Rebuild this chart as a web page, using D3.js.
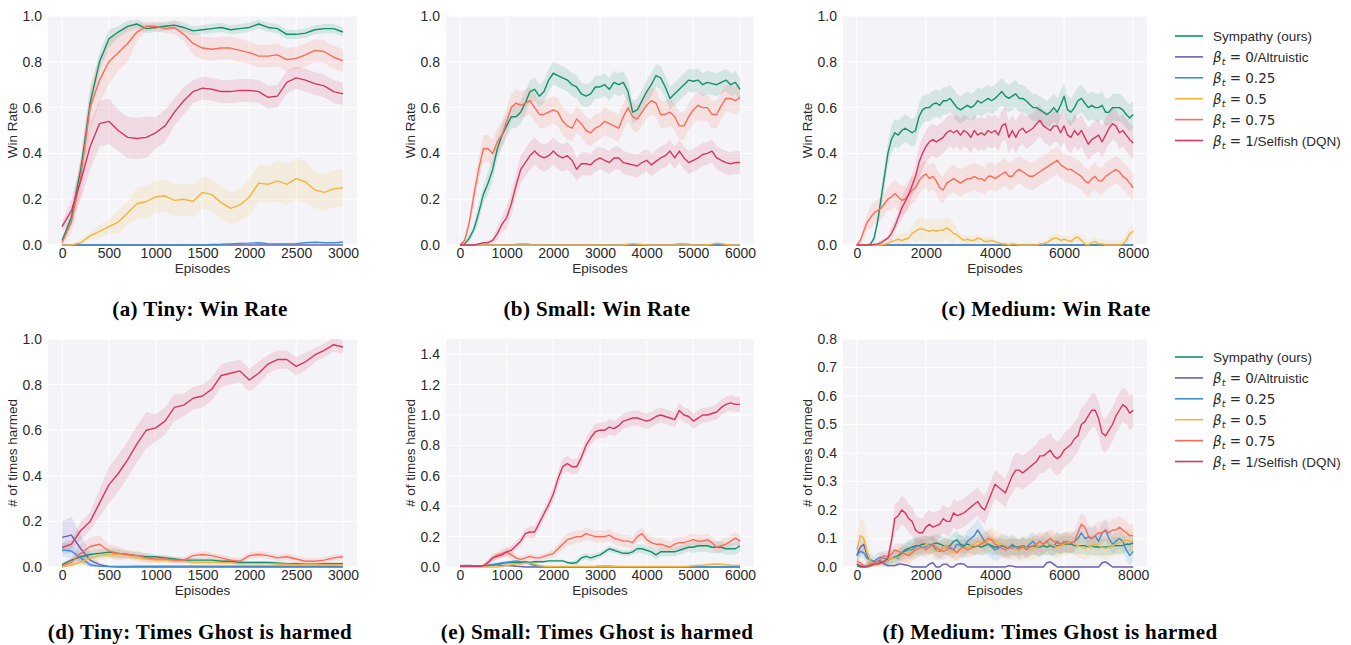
<!DOCTYPE html>
<html>
<head>
<meta charset="utf-8">
<script src="https://cdn.jsdelivr.net/npm/d3@7"></script>
<style>
  body { margin: 0; background: #fff; }
  svg { display: block; }
</style>
</head>
<body>
<script>
var seriesNames = ['Sympathy (ours)', 'β_t = 0/Altruistic', 'β_t = 0.25',
                   'β_t = 0.5', 'β_t = 0.75', 'β_t = 1/Selfish (DQN)'];

var tinyEpisodes   = d3.range(0, 3001, 100);
var smallEpisodes  = d3.range(0, 6001, 100);
var mediumEpisodes = d3.range(0, 8001, 100);

var tinyTicks   = [0, 500, 1000, 1500, 2000, 2500, 3000];
var smallTicks  = [0, 1000, 2000, 3000, 4000, 5000, 6000];
var mediumTicks = [0, 2000, 4000, 6000, 8000];
var winTicks        = [0, 0.2, 0.4, 0.6, 0.8, 1.0];
var smallHarmTicks  = [0, 0.2, 0.4, 0.6, 0.8, 1.0, 1.2, 1.4];
var mediumHarmTicks = [0, 0.1, 0.2, 0.3, 0.4, 0.5, 0.6, 0.7, 0.8];

// (a) Tiny: win rate
var tinyWinSympathy  = [0.02,0.12,0.33,0.62,0.80,0.90,0.93,0.955,0.965,0.945,0.95,0.955,0.96,0.95,0.935,0.94,0.945,0.95,0.94,0.945,0.95,0.965,0.95,0.945,0.92,0.92,0.925,0.94,0.945,0.945,0.93];
var tinyWinAltruistic = [0,0,0,0,0,0,0,0,0,0,0,0,0,0,0,0,0,0,0,0,0,0,0,0,0,0,0,0,0,0,0];
var tinyWinB025      = [0,0,0,0,0,0,0,0,0,0,0,0,0,0,0,0,0.002,0.003,0.005,0.007,0.008,0.01,0.006,0.005,0.005,0.006,0.01,0.012,0.01,0.01,0.012];
var tinyWinB05       = [0,0,0.01,0.04,0.06,0.08,0.10,0.14,0.18,0.19,0.21,0.215,0.195,0.20,0.19,0.23,0.22,0.185,0.16,0.175,0.21,0.27,0.265,0.28,0.265,0.29,0.275,0.24,0.23,0.245,0.25];
var tinyWinB075      = [0.01,0.10,0.30,0.60,0.72,0.80,0.84,0.88,0.93,0.955,0.955,0.945,0.95,0.92,0.88,0.86,0.855,0.86,0.86,0.85,0.84,0.825,0.825,0.83,0.81,0.815,0.83,0.85,0.845,0.82,0.805];
var tinyWinSelfish   = [0.08,0.15,0.28,0.43,0.53,0.54,0.50,0.47,0.465,0.47,0.49,0.52,0.58,0.63,0.67,0.685,0.68,0.67,0.67,0.675,0.675,0.67,0.645,0.65,0.71,0.73,0.72,0.705,0.695,0.67,0.66];

// (b) Small: win rate
var smallWinSympathy = [0,0.005,0.03,0.07,0.14,0.22,0.27,0.33,0.42,0.48,0.52, 0.56,0.56,0.58,0.62,0.67,0.68,0.65,0.67,0.72,0.75, 0.74,0.73,0.72,0.70,0.69,0.66,0.65,0.66,0.69,0.69, 0.70,0.68,0.71,0.70,0.71,0.67,0.58,0.59,0.63,0.67, 0.70,0.74,0.73,0.69,0.64,0.66,0.68,0.70,0.72,0.715, 0.72,0.70,0.71,0.705,0.70,0.71,0.72,0.70,0.71,0.68];
var smallWinAltruistic = [0,0,0,0,0,0,0,0,0,0,0, 0,0,0,0,0,0,0,0,0,0, 0,0,0,0,0,0,0,0,0,0, 0,0,0,0,0,0,0,0,0,0, 0,0,0,0,0,0,0,0,0,0, 0,0,0,0,0,0,0,0,0,0];
var smallWinB025     = [0,0,0,0,0,0,0,0,0,0,0, 0,0.002,0.003,0.003,0.002,0,0,0,0,0, 0,0,0,0,0,0,0,0,0,0, 0,0,0,0,0,0,0,0,0,0, 0,0,0,0,0,0.002,0.003,0.003,0.002,0, 0,0,0,0,0,0,0,0,0,0];
var smallWinB05      = [0,0,0,0,0,0,0,0,0,0,0, 0,0,0,0,0,0,0,0,0,0, 0,0,0,0,0,0,0,0,0,0, 0,0,0,0,0,0.003,0.006,0.004,0.002,0, 0,0,0,0,0,0,0,0,0,0, 0,0,0,0.004,0.008,0.006,0.002,0,0,0];
var smallWinB075     = [0,0.02,0.10,0.22,0.33,0.42,0.42,0.40,0.45,0.48,0.54, 0.60,0.62,0.61,0.62,0.63,0.60,0.57,0.57,0.58,0.59, 0.58,0.54,0.52,0.51,0.55,0.53,0.50,0.49,0.51,0.52, 0.54,0.53,0.52,0.51,0.56,0.60,0.56,0.55,0.58,0.61, 0.63,0.62,0.57,0.57,0.58,0.56,0.52,0.52,0.56,0.59, 0.61,0.60,0.60,0.57,0.57,0.61,0.64,0.64,0.63,0.645];
var smallWinSelfish  = [0,0,0,0,0.005,0.01,0.01,0.02,0.05,0.09,0.12, 0.18,0.26,0.33,0.36,0.39,0.41,0.39,0.38,0.39,0.41, 0.39,0.38,0.39,0.37,0.33,0.355,0.355,0.35,0.37,0.38, 0.37,0.36,0.38,0.38,0.36,0.355,0.35,0.345,0.36,0.37, 0.35,0.365,0.38,0.39,0.41,0.38,0.41,0.38,0.36,0.37, 0.38,0.395,0.40,0.41,0.38,0.37,0.36,0.355,0.36,0.36];

// (c) Medium: win rate
var mediumWinSympathy = [0,0,0,0,0.005,0.03,0.1,0.2,0.3,0.4, 0.46,0.49,0.48,0.5,0.51,0.5,0.49,0.5,0.56,0.59, 0.6,0.6,0.615,0.62,0.61,0.63,0.63,0.64,0.62,0.6, 0.59,0.6,0.61,0.6,0.61,0.63,0.62,0.63,0.64,0.63, 0.64,0.655,0.67,0.65,0.64,0.65,0.66,0.64,0.64,0.63, 0.615,0.6,0.6,0.59,0.58,0.57,0.58,0.6,0.58,0.61, 0.65,0.59,0.58,0.6,0.63,0.64,0.62,0.6,0.61,0.6, 0.6,0.61,0.58,0.58,0.6,0.6,0.6,0.59,0.57,0.555, 0.57];
var mediumWinAltruistic = [0,0,0,0,0,0,0,0,0,0, 0,0,0,0,0,0,0,0,0,0, 0,0,0,0,0,0,0,0,0,0, 0,0,0,0,0,0,0,0,0,0, 0,0,0,0,0,0,0,0,0,0, 0,0,0,0,0,0,0,0,0,0, 0,0,0,0,0,0,0,0,0,0, 0,0,0,0,0,0,0,0,0,0, 0];
var mediumWinB025 = [0,0,0,0,0,0,0,0,0,0, 0,0,0,0,0,0,0,0,0,0, 0,0,0,0,0,0,0,0,0,0, 0,0,0,0,0,0,0,0,0,0, 0,0,0,0,0,0,0,0,0,0, 0,0,0,0,0,0,0,0,0,0, 0,0,0,0,0,0,0,0,0,0, 0,0,0,0,0,0,0,0,0,0, 0];
var mediumWinB05 = [0,0,0,0,0,0,0,0,0.003,0.008, 0.015,0.02,0.025,0.02,0.025,0.03,0.05,0.06,0.07,0.07, 0.065,0.06,0.065,0.06,0.065,0.065,0.075,0.065,0.05,0.045, 0.03,0.02,0.025,0.02,0.02,0.03,0.025,0.015,0.015,0.02, 0.015,0.01,0.005,0.005,0,0.005,0.003,0,0,0, 0,0,0,0.005,0.005,0.01,0.02,0.03,0.03,0.02, 0.025,0.02,0.015,0.03,0.035,0.02,0.005,0,0.01,0.015, 0.005,0.005,0,0,0,0,0,0.005,0.02,0.05, 0.06];
var mediumWinB075 = [0,0.02,0.06,0.1,0.12,0.14,0.15,0.16,0.18,0.2, 0.21,0.225,0.21,0.195,0.2,0.22,0.24,0.25,0.28,0.3, 0.31,0.29,0.3,0.28,0.25,0.24,0.27,0.28,0.29,0.28, 0.27,0.28,0.29,0.29,0.3,0.29,0.29,0.28,0.3,0.3, 0.29,0.3,0.31,0.32,0.3,0.3,0.32,0.33,0.32,0.31, 0.3,0.3,0.31,0.32,0.33,0.34,0.35,0.36,0.37,0.35, 0.34,0.33,0.33,0.32,0.31,0.3,0.28,0.27,0.29,0.3, 0.28,0.28,0.3,0.31,0.32,0.33,0.32,0.3,0.29,0.27, 0.25];
var mediumWinSelfish = [0,0,0,0,0,0.003,0.005,0.01,0.02,0.03, 0.05,0.08,0.12,0.16,0.19,0.22,0.26,0.3,0.36,0.4, 0.43,0.45,0.46,0.45,0.46,0.47,0.49,0.5,0.49,0.5, 0.48,0.5,0.49,0.47,0.5,0.48,0.49,0.48,0.5,0.49, 0.5,0.48,0.52,0.53,0.47,0.5,0.47,0.5,0.51,0.49, 0.5,0.51,0.53,0.545,0.52,0.51,0.5,0.52,0.52,0.49, 0.52,0.48,0.47,0.5,0.48,0.5,0.47,0.44,0.46,0.47, 0.48,0.45,0.48,0.51,0.53,0.52,0.49,0.5,0.48,0.46, 0.445];

// (d) Tiny: times ghost is harmed
var tinyHarmSympathy  = [0.01,0.03,0.045,0.055,0.06,0.065,0.06,0.055,0.05,0.045,0.045,0.04,0.035,0.03,0.03,0.03,0.03,0.025,0.025,0.02,0.02,0.02,0.02,0.018,0.015,0.015,0.012,0.012,0.015,0.015,0.015];
var tinyHarmAltruistic = [0.13,0.14,0.08,0.03,0.01,0.002,0,0,0,0,0,0,0,0,0,0,0,0,0,0,0,0,0,0,0,0,0,0,0,0,0];
var tinyHarmB025      = [0.075,0.07,0.04,0.01,0.003,0.002,0.002,0.002,0.003,0.003,0.003,0.003,0.004,0.004,0.004,0.004,0.004,0.004,0.004,0.004,0.004,0.004,0.004,0.004,0.004,0.004,0.004,0.004,0.004,0.004,0.004];
var tinyHarmB05       = [0,0.01,0.02,0.04,0.05,0.055,0.055,0.05,0.04,0.035,0.03,0.03,0.025,0.025,0.02,0.02,0.02,0.02,0.018,0.015,0.015,0.015,0.015,0.012,0.012,0.01,0.01,0.01,0.01,0.01,0.01];
var tinyHarmB075      = [0.005,0.02,0.06,0.09,0.10,0.07,0.06,0.055,0.05,0.04,0.035,0.035,0.03,0.03,0.05,0.055,0.05,0.04,0.03,0.025,0.05,0.055,0.05,0.04,0.045,0.035,0.025,0.025,0.03,0.04,0.045];
var tinyHarmSelfish   = [0.085,0.10,0.16,0.20,0.28,0.36,0.41,0.47,0.54,0.60,0.61,0.64,0.70,0.71,0.74,0.75,0.78,0.84,0.85,0.86,0.82,0.85,0.89,0.91,0.91,0.88,0.90,0.93,0.95,0.975,0.965];

// (e) Small: times ghost is harmed
var smallHarmSympathy = [0.005,0.005,0.005,0.005,0.005,0.005,0.01,0.015,0.02,0.025,0.03, 0.03,0.03,0.03,0.035,0.03,0.035,0.035,0.035,0.04,0.04, 0.04,0.04,0.03,0.025,0.03,0.06,0.07,0.06,0.07,0.08, 0.10,0.12,0.11,0.10,0.09,0.09,0.10,0.12,0.12,0.11, 0.10,0.08,0.10,0.10,0.10,0.10,0.11,0.12,0.13,0.13, 0.14,0.14,0.14,0.13,0.13,0.13,0.12,0.12,0.12,0.14];
var smallHarmAltruistic = [0.008,0.01,0.01,0.008,0.005,0.005,0.01,0.015,0.015,0.01,0.01, 0.008,0.005,0.003,0,0,0,0,0,0,0, 0,0,0,0,0,0,0,0,0,0, 0,0,0,0,0,0,0,0,0,0, 0,0,0,0,0,0,0,0,0,0, 0,0,0,0,0,0,0,0,0,0];
var smallHarmB025 = [0.005,0.005,0.005,0.005,0.005,0.005,0.01,0.015,0.02,0.025,0.03, 0.035,0.04,0.035,0.03,0.02,0.01,0.005,0.003,0.002,0.002, 0.002,0.002,0.002,0.002,0.002,0.002,0.002,0.002,0.003,0.005, 0.005,0.006,0.004,0.002,0.002,0.002,0.002,0.002,0.002,0.002, 0.002,0.002,0.002,0.002,0.002,0.002,0.002,0.002,0.002,0.002, 0.002,0.002,0.002,0.002,0.002,0.002,0.002,0.002,0.002,0.002];
var smallHarmB05 = [0,0,0,0,0,0,0,0,0,0.005,0.01, 0.015,0.02,0.02,0.025,0.025,0.02,0.01,0.005,0.003,0.003, 0.003,0.003,0.003,0.003,0.003,0.003,0.003,0.003,0.003,0.003, 0.003,0.003,0.003,0.003,0.003,0.003,0.003,0.003,0.003,0.003, 0.003,0.003,0.003,0.003,0.003,0.003,0.003,0.003,0.005,0.008, 0.01,0.012,0.015,0.018,0.02,0.018,0.015,0.012,0.01,0.012];
var smallHarmB075 = [0.005,0.005,0.005,0.005,0.005,0.005,0.03,0.06,0.08,0.09,0.10, 0.08,0.06,0.05,0.06,0.07,0.06,0.06,0.07,0.08,0.09, 0.12,0.15,0.18,0.19,0.20,0.20,0.22,0.21,0.20,0.20, 0.20,0.21,0.19,0.18,0.17,0.17,0.16,0.20,0.22,0.18, 0.16,0.15,0.15,0.14,0.13,0.15,0.16,0.16,0.17,0.18, 0.17,0.17,0.18,0.16,0.13,0.14,0.15,0.17,0.19,0.17];
var smallHarmSelfish = [0.005,0.005,0.005,0.005,0.005,0.01,0.03,0.06,0.07,0.08,0.10, 0.11,0.14,0.17,0.22,0.23,0.23,0.29,0.35,0.41,0.48, 0.58,0.66,0.68,0.66,0.66,0.72,0.80,0.85,0.89,0.90, 0.90,0.92,0.91,0.93,0.96,0.97,0.98,0.98,0.97,0.96, 0.97,0.99,1.00,0.99,0.98,0.97,1.03,1.00,0.99,0.96, 0.98,1.00,1.00,1.01,1.02,1.05,1.07,1.08,1.07,1.07];

// (f) Medium: times ghost is harmed
var mediumHarmSympathy = [0.005,0,0,0.005,0.01,0.01,0.01,0.015,0.02,0.025, 0.03,0.035,0.04,0.05,0.06,0.065,0.07,0.075,0.075,0.08, 0.08,0.075,0.08,0.085,0.08,0.075,0.07,0.075,0.09,0.095, 0.08,0.075,0.08,0.075,0.07,0.075,0.07,0.075,0.08,0.075, 0.07,0.07,0.075,0.07,0.07,0.075,0.07,0.07,0.075,0.07, 0.07,0.075,0.07,0.07,0.075,0.07,0.075,0.07,0.075,0.075, 0.08,0.08,0.08,0.075,0.075,0.075,0.075,0.07,0.075,0.07, 0.07,0.07,0.07,0.07,0.075,0.075,0.075,0.075,0.08,0.08, 0.085];
var mediumHarmAltruistic = [0.04,0.07,0.08,0.04,0.02,0.015,0.02,0.02,0.01,0.005, 0.005,0.005,0.01,0.01,0.008,0.005,0,0,0,0, 0,0.01,0.015,0,0,0.01,0.01,0,0,0.01, 0.012,0.01,0,0,0,0,0,0,0,0, 0,0,0,0,0.005,0.003,0,0,0,0, 0,0,0,0,0,0.015,0.018,0.01,0,0, 0,0,0,0,0,0,0,0,0,0, 0,0.015,0.018,0.01,0,0,0,0,0,0, 0];
var mediumHarmB025 = [0.04,0.055,0.05,0.03,0.025,0.02,0.03,0.035,0.03,0.025, 0.03,0.035,0.03,0.05,0.055,0.06,0.06,0.07,0.075,0.07, 0.07,0.08,0.075,0.06,0.055,0.07,0.075,0.065,0.06,0.08, 0.075,0.07,0.09,0.1,0.11,0.13,0.11,0.09,0.08,0.07, 0.06,0.065,0.075,0.07,0.065,0.08,0.07,0.06,0.07,0.065, 0.08,0.09,0.075,0.07,0.08,0.09,0.075,0.07,0.09,0.08, 0.085,0.09,0.08,0.09,0.1,0.12,0.1,0.105,0.1,0.11, 0.09,0.12,0.13,0.1,0.08,0.09,0.1,0.09,0.06,0.04, 0.055];
var mediumHarmB05 = [0.06,0.11,0.1,0.05,0.02,0.01,0.01,0.015,0.02,0.025, 0.03,0.03,0.035,0.04,0.045,0.05,0.055,0.06,0.065,0.07, 0.08,0.075,0.06,0.055,0.06,0.07,0.075,0.055,0.05,0.055, 0.06,0.065,0.07,0.075,0.08,0.09,0.085,0.08,0.09,0.1, 0.09,0.085,0.08,0.075,0.07,0.065,0.06,0.06,0.065,0.07, 0.06,0.065,0.07,0.075,0.08,0.085,0.08,0.075,0.07,0.075, 0.08,0.085,0.09,0.08,0.075,0.07,0.065,0.07,0.075,0.08, 0.075,0.07,0.065,0.07,0.075,0.08,0.085,0.09,0.095,0.09, 0.09];
var mediumHarmB075 = [0.02,0.015,0.005,0.005,0.01,0.015,0.02,0.03,0.04,0.035, 0.045,0.06,0.055,0.05,0.045,0.04,0.05,0.06,0.065,0.07, 0.06,0.07,0.08,0.07,0.06,0.055,0.06,0.07,0.06,0.05, 0.065,0.07,0.06,0.065,0.07,0.075,0.08,0.09,0.1,0.095, 0.08,0.075,0.065,0.06,0.07,0.065,0.07,0.065,0.075,0.06, 0.07,0.075,0.08,0.09,0.08,0.09,0.1,0.09,0.085,0.08, 0.09,0.08,0.085,0.09,0.12,0.15,0.14,0.11,0.1,0.11, 0.12,0.12,0.13,0.12,0.13,0.13,0.14,0.13,0.12,0.11, 0.11];
var mediumHarmSelfish = [0.01,0.005,0,0,0.005,0.01,0.01,0.015,0.02,0.03, 0.09,0.17,0.18,0.2,0.19,0.17,0.16,0.13,0.12,0.12, 0.14,0.15,0.14,0.145,0.15,0.17,0.16,0.16,0.19,0.18, 0.185,0.19,0.2,0.21,0.22,0.23,0.21,0.2,0.23,0.26, 0.29,0.28,0.27,0.26,0.29,0.32,0.34,0.34,0.33,0.34, 0.35,0.36,0.37,0.39,0.39,0.4,0.41,0.39,0.38,0.39, 0.41,0.42,0.43,0.45,0.46,0.5,0.51,0.53,0.55,0.55, 0.52,0.47,0.46,0.48,0.5,0.53,0.55,0.57,0.56,0.54, 0.55];

// shaded-band half widths: [from episode, half width] steps, null = no band
var tinyWinBands = [
  [[0,0.01],[100,0.03],[200,0.05],[400,0.04],[600,0.025],[800,0.02]],
  null,
  [[0,0.003]],
  [[0,0],[200,0.015],[400,0.03],[600,0.05],[800,0.07],[2000,0.08],[2300,0.09],[2700,0.08]],
  [[0,0.01],[100,0.05],[200,0.08],[300,0.1],[600,0.08],[800,0.04],[900,0.02],[1200,0.03],[1400,0.05]],
  [[0,0.02],[100,0.05],[200,0.08],[300,0.1],[600,0.09],[1000,0.07],[1200,0.06],[1400,0.05]]
];
var smallWinBands = [
  [[0,0],[200,0.02],[400,0.04],[600,0.05]],
  null,
  [[0,0.002]],
  [[0,0.003]],
  [[0,0],[100,0.02],[300,0.05],[500,0.06]],
  [[0,0],[600,0.01],[800,0.03],[1000,0.05],[1300,0.06],[2500,0.05]]
];
var mediumWinBands = [
  [[0,0],[500,0.02],[700,0.05],[1000,0.06]],
  null,
  [[0,0.002]],
  [[0,0],[800,0.01],[1200,0.03],[1700,0.05],[2900,0.02],[4000,0.01],[5500,0.02],[7800,0.03]],
  [[0,0.01],[200,0.03],[400,0.05],[1000,0.06]],
  [[0,0],[700,0.01],[1000,0.03],[1300,0.05],[1800,0.07]]
];
var tinyHarmBands = [
  [[0,0.01],[200,0.02],[700,0.015],[1000,0.01],[2000,0.006]],
  [[0,0.07],[100,0.08],[200,0.06],[300,0.03],[400,0.01],[500,0.002]],
  [[0,0.03],[200,0.02],[300,0.01],[400,0.003]],
  [[0,0.005],[200,0.015],[300,0.02],[700,0.015],[1000,0.01],[2000,0.006]],
  [[0,0.01],[100,0.02],[200,0.04],[500,0.03],[700,0.02],[1000,0.015]],
  [[0,0.02],[200,0.04],[400,0.06],[500,0.08],[1000,0.06],[1300,0.05],[2200,0.04],[2700,0.03]]
];
var smallHarmBands = [
  [[0,0.003],[600,0.01],[2500,0.02],[3800,0.03],[5000,0.04]],
  [[0,0.005]],
  [[0,0.003],[700,0.01],[1500,0.003]],
  [[0,0.003],[1000,0.008],[1800,0.003],[5000,0.006]],
  [[0,0.003],[600,0.02],[900,0.03],[1200,0.02],[2000,0.03],[2200,0.04]],
  [[0,0.003],[600,0.02],[1000,0.03],[1500,0.04],[2000,0.05]]
];
var mediumHarmBands = [
  [[0,0.01],[1000,0.02],[1500,0.03]],
  [[0,0.03],[400,0.01],[1000,0.003]],
  [[0,0.02],[1000,0.03],[3000,0.04],[4500,0.035]],
  [[0,0.06],[400,0.02],[1000,0.03],[3500,0.04]],
  [[0,0.01],[700,0.02],[1200,0.03],[5000,0.035],[6400,0.04]],
  [[0,0.005],[900,0.03],[1100,0.05],[4500,0.06]]
];

// ---- style ----
var WIDTH = 1351, HEIGHT = 645;
var colors = ['#12906d', '#6b5fb2', '#3d8fd2', '#f2b53c', '#ff6a57', '#d5385f'];
var BG = '#f4f4f8';
var SANS = '"Liberation Sans", Arial, sans-serif';
var SERIF = '"Liberation Serif", "Times New Roman", serif';
var TEXT = '#2b2b2b';

var panels = [
  { ep: tinyEpisodes, xMax: 3000, xTicks: tinyTicks, yMax: 1.0, yTicks: winTicks, yLabel: 'Win Rate',
    series: [tinyWinSympathy, tinyWinAltruistic, tinyWinB025, tinyWinB05, tinyWinB075, tinyWinSelfish],
    bands: tinyWinBands, box: [48, 16, 357, 245], caption: '(a) Tiny: Win Rate', capX: 200, capY: 316 },
  { ep: smallEpisodes, xMax: 6000, xTicks: smallTicks, yMax: 1.0, yTicks: winTicks, yLabel: 'Win Rate',
    series: [smallWinSympathy, smallWinAltruistic, smallWinB025, smallWinB05, smallWinB075, smallWinSelfish],
    bands: smallWinBands, box: [446, 16, 754, 245], caption: '(b) Small: Win Rate', capX: 597, capY: 316 },
  { ep: mediumEpisodes, xMax: 8000, xTicks: mediumTicks, yMax: 1.0, yTicks: winTicks, yLabel: 'Win Rate',
    series: [mediumWinSympathy, mediumWinAltruistic, mediumWinB025, mediumWinB05, mediumWinB075, mediumWinSelfish],
    bands: mediumWinBands, box: [843, 16, 1147, 245], caption: '(c) Medium: Win Rate', capX: 1046, capY: 316 },
  { ep: tinyEpisodes, xMax: 3000, xTicks: tinyTicks, yMax: 1.0, yTicks: winTicks, yLabel: '# of times harmed',
    series: [tinyHarmSympathy, tinyHarmAltruistic, tinyHarmB025, tinyHarmB05, tinyHarmB075, tinyHarmSelfish],
    bands: tinyHarmBands, box: [48, 339, 357, 567], caption: '(d) Tiny: Times Ghost is harmed', capX: 200, capY: 639 },
  { ep: smallEpisodes, xMax: 6000, xTicks: smallTicks, yMax: 1.5, yTicks: smallHarmTicks, yLabel: '# of times harmed',
    series: [smallHarmSympathy, smallHarmAltruistic, smallHarmB025, smallHarmB05, smallHarmB075, smallHarmSelfish],
    bands: smallHarmBands, box: [446, 339, 754, 567], caption: '(e) Small: Times Ghost is harmed', capX: 597, capY: 639 },
  { ep: mediumEpisodes, xMax: 8000, xTicks: mediumTicks, yMax: 0.8, yTicks: mediumHarmTicks, yLabel: '# of times harmed',
    series: [mediumHarmSympathy, mediumHarmAltruistic, mediumHarmB025, mediumHarmB05, mediumHarmB075, mediumHarmSelfish],
    bands: mediumHarmBands, box: [843, 339, 1147, 567], caption: '(f) Medium: Times Ghost is harmed', capX: 1050, capY: 639 }
];

var svg = d3.select('body').append('svg')
            .attr('width', WIDTH)
            .attr('height', HEIGHT)
            .style('background', '#fff');

function bandAt(steps, e) {
  var w = 0;
  steps.forEach(function(s) { if (s[0] <= e) w = s[1]; });
  return w;
}

function drawPanel(p, idx) {
  var left = p.box[0], top = p.box[1], right = p.box[2], bottom = p.box[3];
  var x = d3.scaleLinear().domain([-p.xMax * 0.05, p.xMax * 1.05]).range([left, right]);
  var y = d3.scaleLinear().domain([0, p.yMax]).range([bottom, top]);
  var g = svg.append('g');

  g.append('rect')
    .attr('x', left).attr('y', top)
    .attr('width', right - left).attr('height', bottom - top)
    .attr('fill', BG);

  g.selectAll('line.gx').data(p.xTicks).enter().append('line')
    .attr('x1', function(d) { return x(d); }).attr('x2', function(d) { return x(d); })
    .attr('y1', top).attr('y2', bottom)
    .attr('stroke', '#fff').attr('stroke-width', 1);
  g.selectAll('line.gy').data(p.yTicks).enter().append('line')
    .attr('x1', left).attr('x2', right)
    .attr('y1', function(d) { return y(d); }).attr('y2', function(d) { return y(d); })
    .attr('stroke', '#fff').attr('stroke-width', 1);

  var clipId = 'clip' + idx;
  svg.append('clipPath').attr('id', clipId).append('rect')
    .attr('x', left).attr('y', top).attr('width', right - left).attr('height', bottom - top);
  var bandLayer = g.append('g').attr('clip-path', 'url(#' + clipId + ')');
  var lineLayer = g.append('g');

  var area = d3.area()
    .x(function(d) { return x(d.e); })
    .y0(function(d) { return y(Math.max(0, d.v - d.w)); })
    .y1(function(d) { return y(d.v + d.w); });
  var line = d3.line()
    .x(function(d) { return x(d.e); })
    .y(function(d) { return y(d.v); });

  p.series.forEach(function(vals, i) {
    var steps = p.bands[i];
    var pts = vals.map(function(v, j) {
      return { e: p.ep[j], v: v, w: steps ? bandAt(steps, p.ep[j]) : 0 };
    });
    if (steps) {
      bandLayer.append('path').datum(pts)
        .attr('d', area)
        .attr('fill', colors[i])
        .attr('fill-opacity', 0.14);
    }
    lineLayer.append('path').datum(pts)
      .attr('d', line)
      .attr('fill', 'none')
      .attr('stroke', colors[i])
      .attr('stroke-width', 1.4)
      .attr('stroke-linejoin', 'round');
  });

  var xAxis = d3.axisBottom(x).tickValues(p.xTicks).tickSize(0).tickPadding(3)
                .tickFormat(d3.format('d'));
  var yAxis = d3.axisLeft(y).tickValues(p.yTicks).tickSize(0).tickPadding(6)
                .tickFormat(d3.format('.1f'));
  [g.append('g').attr('transform', 'translate(0,' + bottom + ')').call(xAxis),
   g.append('g').attr('transform', 'translate(' + left + ',0)').call(yAxis)]
    .forEach(function(ax) {
      ax.select('.domain').remove();
      ax.selectAll('text')
        .attr('fill', TEXT)
        .style('font-family', SANS)
        .style('font-size', '14px');
    });

  g.append('text')
    .attr('x', x(p.xMax / 2)).attr('y', bottom + 28)
    .attr('text-anchor', 'middle')
    .attr('fill', TEXT)
    .style('font-family', SANS).style('font-size', '13.5px')
    .text('Episodes');

  g.append('text')
    .attr('transform', 'translate(' + (left - 31) + ',' + ((top + bottom) / 2) + ') rotate(-90)')
    .attr('text-anchor', 'middle')
    .attr('fill', TEXT)
    .style('font-family', SANS).style('font-size', '13.5px')
    .text(p.yLabel);

  svg.append('text')
    .attr('x', p.capX).attr('y', p.capY)
    .attr('text-anchor', 'middle')
    .attr('fill', '#000')
    .style('font-family', SERIF).style('font-weight', 'bold').style('font-size', '21px')
    .style('letter-spacing', '0.4px')
    .text(p.caption);
}

panels.forEach(drawPanel);

function drawLegend(y0) {
  var lg = svg.append('g');
  seriesNames.forEach(function(name, i) {
    var cy = y0 + i * 20.9;
    lg.append('line')
      .attr('x1', 1175).attr('x2', 1203)
      .attr('y1', cy).attr('y2', cy)
      .attr('stroke', colors[i]).attr('stroke-width', 1.6);
    var t = lg.append('text')
      .attr('x', 1213).attr('y', cy + 5)
      .attr('fill', TEXT)
      .style('font-family', SANS).style('font-size', '13.5px');
    if (name.indexOf('β_t') === 0) {
      t.append('tspan').style('font-family', '"DejaVu Sans", sans-serif').style('font-style', 'italic').text('β');
      t.append('tspan').attr('dy', 3).style('font-family', '"DejaVu Sans", sans-serif')
        .style('font-style', 'italic').style('font-size', '9.5px').text('t');
      t.append('tspan').attr('dy', -3).style('font-family', '"DejaVu Sans", sans-serif')
        .text(' = ' + name.slice(6).split('/')[0]);
      var rest = name.slice(6).split('/')[1];
      if (rest) t.append('tspan').text('/' + rest);
    } else {
      t.text(name);
    }
  });
}

drawLegend(36);
drawLegend(357);
</script>
</body>
</html>
